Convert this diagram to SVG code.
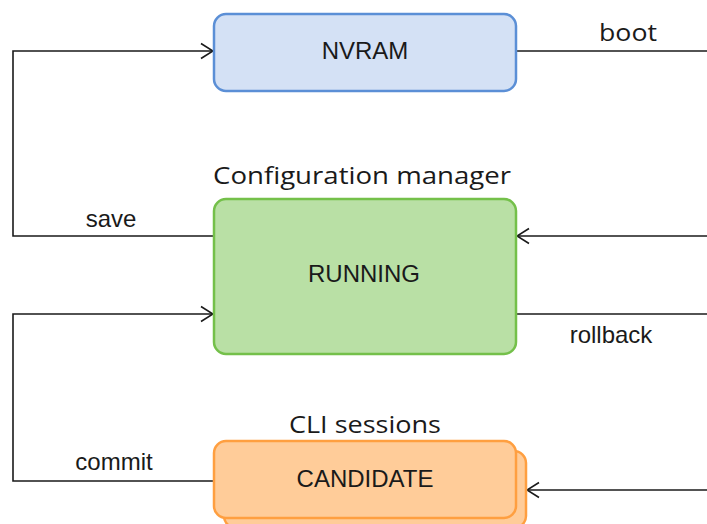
<svg xmlns="http://www.w3.org/2000/svg" width="707" height="524" viewBox="0 0 707 524">
<defs>
<marker id="arr" viewBox="0 0 16 20" refX="15" refY="10" markerWidth="16" markerHeight="20" markerUnits="userSpaceOnUse" orient="auto">
<path d="M3,2.5 L15,10 L3,17.5" fill="none" stroke="#1a1a1a" stroke-width="1.6"/>
</marker>
<style>
.c{fill:none;stroke:#1a1a1a;stroke-width:1.6}
.lbl{font-family:"Liberation Sans",Arial,sans-serif;font-size:24px;fill:#1a1a1a;text-anchor:middle}
.t{font-family:"Open Sans","Noto Sans",sans-serif;font-size:24px;fill:#1a1a1a;text-anchor:middle}
.b{stroke-width:2.5}
</style>
</defs>
<rect width="707" height="524" fill="#fff"/>
<g id="connectors">
<path class="c" d="M516,51 H707"/>
<path class="c" d="M214,236 H13 V51 H213" marker-end="url(#arr)"/>
<path class="c" d="M707,236 H517" marker-end="url(#arr)"/>
<path class="c" d="M516,314 H707"/>
<path class="c" d="M214,481 H13 V314 H213" marker-end="url(#arr)"/>
<path class="c" d="M707,490 H527" marker-end="url(#arr)"/>
<text class="t" x="628" y="41" textLength="58" lengthAdjust="spacingAndGlyphs">boot</text>
<text class="lbl" x="111" y="227">save</text>
<text class="lbl" x="611" y="343">rollback</text>
<text class="lbl" x="114" y="470">commit</text>
</g>
<g id="nvram">
<rect class="b" x="214" y="14" width="302" height="77" rx="12" fill="#d4e1f5" stroke="#5b8fd6"/>
<text class="lbl" x="365" y="59">NVRAM</text>
</g>
<g id="running">
<text class="t" x="362" y="184" textLength="298" lengthAdjust="spacingAndGlyphs">Configuration manager</text>
<rect class="b" x="214" y="199" width="302" height="155" rx="12" fill="#b9e0a5" stroke="#74c04a"/>
<text class="lbl" x="364" y="282">RUNNING</text>
</g>
<g id="candidate">
<text class="t" x="365" y="433" textLength="152" lengthAdjust="spacingAndGlyphs">CLI sessions</text>
<rect class="b" x="224" y="451" width="302" height="77" rx="12" fill="#ffcc99" stroke="#ff9f40"/>
<rect class="b" x="214" y="441" width="302" height="77" rx="12" fill="#ffcc99" stroke="#ff9f40"/>
<text class="lbl" x="365" y="487">CANDIDATE</text>
</g>
</svg>
